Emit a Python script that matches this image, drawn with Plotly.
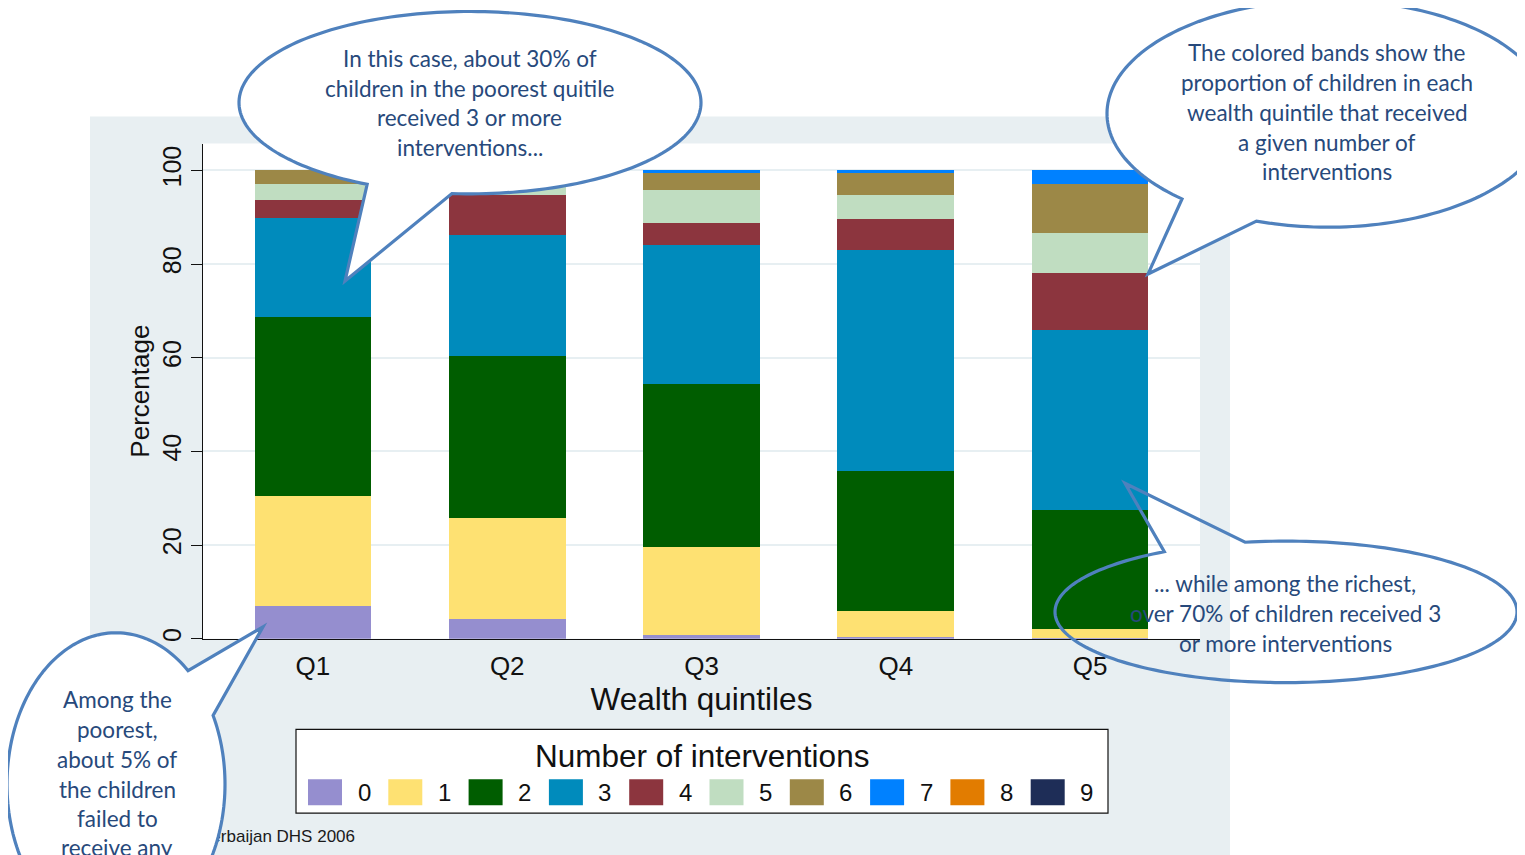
import math
import plotly.graph_objects as go

# ---------------- data ----------------
categories = ["Q1", "Q2", "Q3", "Q4", "Q5"]
n_labels = ["0", "1", "2", "3", "4", "5", "6", "7", "8", "9"]
n0 = [7.0, 4.2, 0.9, 0.4, 0.1]
n1 = [23.4, 21.5, 18.6, 5.6, 2.0]
n2 = [38.3, 34.7, 35.0, 29.8, 25.3]
n3 = [21.1, 25.8, 29.5, 47.2, 38.6]
n4 = [3.8, 8.6, 4.8, 6.6, 12.0]
n5 = [3.4, 2.5, 7.1, 5.2, 8.7]
n6 = [3.0, 2.5, 3.7, 4.8, 10.5]
n7 = [0.0, 0.2, 0.4, 0.4, 2.8]
n8 = [0.0, 0.0, 0.0, 0.0, 0.0]
n9 = [0.0, 0.0, 0.0, 0.0, 0.0]
series = [n0, n1, n2, n3, n4, n5, n6, n7, n8, n9]
colors = ["#958ecf", "#fee172", "#005d00", "#008bbc", "#8c353e",
          "#c0ddc1", "#9c8847", "#0081ff", "#e27c00", "#1e2d57"]
y_ticks = [0, 20, 40, 60, 80, 100]

source_note = "Source: Azerbaijan DHS 2006"
legend_title = "Number of interventions"
bubble1_lines = ["In this case, about 30% of", "children in the poorest quitile",
                 "received 3 or more", "interventions..."]
bubble2_lines = ["The colored bands show the", "proportion of children in each",
                 "wealth quintile that received", "a given number of", "interventions"]
bubble3_lines = ["... while among the richest,", "over 70% of children received 3",
                 "or more interventions"]
bubble4_lines = ["Among the", "poorest,", "about 5% of", "the children",
                 "failed to", "receive any"]

# ---------------- geometry helpers (screen pixel -> paper) ----------------
OFFX, OFFY = 8, 6  # page body offset
W, H = 1525 - OFFX, 855 - OFFY


def px(x):
    return (x - OFFX) / W


def py(y):
    return 1 - (y - OFFY) / H


def bubble_path(cx, cy, rx, ry, p_start, tip, p_end, n=200):
    a1 = math.atan2((p_start[1] - cy) / ry, (p_start[0] - cx) / rx)
    a2 = math.atan2((p_end[1] - cy) / ry, (p_end[0] - cx) / rx)
    d = (a2 - a1) % (2 * math.pi)
    if d < math.pi:
        d = d - 2 * math.pi
    pts = [tip]
    for k in range(n + 1):
        a = a1 + d * k / n
        pts.append((cx + rx * math.cos(a), cy + ry * math.sin(a)))
    pts.append(tip)
    return "M " + " L ".join(f"{px(x):.5f},{py(y):.5f}" for x, y in pts) + " Z"


BLUE_LINE = "#4f81bd"
TEXT_BLUE = "#27497b"
BUB_FONT = "Lato"
SANS = "Liberation Sans, Arial"

fig = go.Figure()

for lab, vals, col in zip(n_labels, series, colors):
    fig.add_trace(go.Bar(
        x=categories, y=vals, name=lab, marker_color=col,
        marker_line_width=0, width=0.6, showlegend=False,
        xaxis="x", yaxis="y"))

# source note as a trace in a full-figure pixel subplot (so the bubble covers it)
fig.add_trace(go.Scatter(
    x=[355], y=[839], mode="text", text=[source_note],
    textposition="middle left",
    textfont=dict(family=SANS, size=17, color="#1a1a1a"),
    xaxis="x2", yaxis="y2", showlegend=False, hoverinfo="skip", cliponaxis=False))

shapes = []
shapes.append(dict(type="rect", xref="paper", yref="paper",
                   x0=px(90), x1=px(1230), y0=py(870), y1=py(115),
                   fillcolor="#e8eff2", line_width=0, layer="below"))
shapes.append(dict(type="rect", xref="paper", yref="paper",
                   x0=px(203), x1=px(1200), y0=py(639), y1=py(142),
                   fillcolor="white", line_width=0, layer="below"))

# legend box
shapes.append(dict(type="rect", xref="paper", yref="paper",
                   x0=px(296), x1=px(1108), y0=py(814), y1=py(730),
                   fillcolor="white", line=dict(color="#111111", width=1.2),
                   layer="above"))
annotations = []
annotations.append(dict(x=px(702), y=py(757), xref="paper", yref="paper",
                        text=legend_title, showarrow=False,
                        xanchor="center", yanchor="middle",
                        font=dict(family=SANS, size=31.5, color="#111")))
for i, (lab, col) in enumerate(zip(n_labels, colors)):
    x0 = 308 + 80.3 * i
    shapes.append(dict(type="rect", xref="paper", yref="paper",
                       x0=px(x0), x1=px(x0 + 34), y0=py(806), y1=py(780),
                       fillcolor=col, line_width=0, layer="above"))
    annotations.append(dict(x=px(x0 + 56), y=py(793), xref="paper", yref="paper",
                            text=lab, showarrow=False, xanchor="center", yanchor="middle",
                            font=dict(family=SANS, size=24, color="#111")))

# speech bubbles
bubbles = [
    dict(c=(470, 101, 231, 91.5), s=(366.7, 183.3), t=(345, 280), e=(451.7, 193.3),
         fill="white", lines=bubble1_lines, tx=470, ty=[56.5, 86.5, 116, 145.5]),
    dict(c=(1328, 112, 221, 114), s=(1183, 197), t=(1148, 273), e=(1257, 219),
         fill="white", lines=bubble2_lines, tx=1327, ty=[50.5, 80.5, 110.5, 140.5, 170.5]),
    dict(c=(1286, 612, 231, 71), s=(1165, 552), t=(1125, 483), e=(1245, 542),
         fill="rgba(255,255,255,0)", lines=bubble3_lines, tx=1285, ty=[584, 614, 644]),
    dict(c=(116, 785, 109, 152), s=(188, 671), t=(263, 627), e=(213, 716),
         fill="white", lines=bubble4_lines, tx=117, ty=[700, 730, 760, 790, 819, 848]),
]
for b in bubbles:
    cx, cy, rx, ry = b["c"]
    shapes.append(dict(type="path", xref="paper", yref="paper",
                       path=bubble_path(cx, cy, rx, ry, b["s"], b["t"], b["e"]),
                       fillcolor=b["fill"], line=dict(color=BLUE_LINE, width=3.2),
                       layer="above"))
    for line, yy in zip(b["lines"], b["ty"]):
        annotations.append(dict(x=px(b["tx"]), y=py(yy), xref="paper", yref="paper",
                                text=line, showarrow=False, xanchor="center",
                                yanchor="middle",
                                font=dict(family=BUB_FONT, size=22.5, color=TEXT_BLUE)))

fig.update_layout(
    width=W, height=H,
    margin=dict(l=0, r=0, t=0, b=0),
    paper_bgcolor="white", plot_bgcolor="rgba(0,0,0,0)",
    barmode="stack",
    showlegend=False,
    shapes=shapes, annotations=annotations,
    xaxis=dict(domain=[px(203), px(1200)], range=[-0.566, 4.566],
               type="category", showline=True, linecolor="#111", linewidth=1.2,
               ticks="", showgrid=False, zeroline=False, ticklabelstandoff=4,
               tickfont=dict(family=SANS, size=26, color="#111"),
               title=dict(text="Wealth quintiles", standoff=3,
                          font=dict(family=SANS, size=31.5, color="#111")),
               fixedrange=True),
    yaxis=dict(domain=[py(639), py(142)], range=[0, 105.74],
               tickvals=y_ticks, tickangle=-90, ticks="outside", ticklen=11,
               tickcolor="#111", tickwidth=1.2,
               showline=True, linecolor="#111", linewidth=1.2,
               showgrid=True, gridcolor="#e7eff2", gridwidth=2, zeroline=False,
               tickfont=dict(family=SANS, size=25, color="#111"),
               title=dict(text="Percentage", standoff=0,
                          font=dict(family=SANS, size=26, color="#111")),
               fixedrange=True),
    xaxis2=dict(domain=[0, 1], range=[OFFX, W + OFFX], visible=False,
                fixedrange=True, anchor="y2"),
    yaxis2=dict(domain=[0, 1], range=[H + OFFY, OFFY], visible=False,
                fixedrange=True, anchor="x2"),
)

fig.write_html("out.html")
